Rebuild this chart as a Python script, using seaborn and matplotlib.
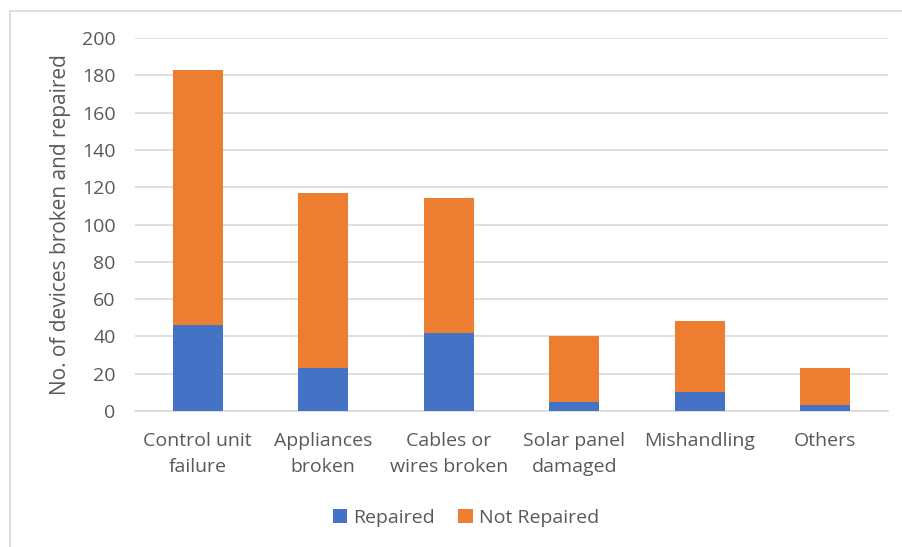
import matplotlib
matplotlib.use("Agg")
import matplotlib.pyplot as plt
import seaborn as sns
import pandas as pd
from matplotlib.patches import Patch
from matplotlib.lines import Line2D

categories = ["Control unit\nfailure", "Appliances\nbroken", "Cables or\nwires broken",
              "Solar panel\ndamaged", "Mishandling", "Others"]
repaired = [46, 23, 42, 5, 10, 3]
not_repaired = [137, 94, 72, 35, 38, 20]
yticks = [0, 20, 40, 60, 80, 100, 120, 140, 160, 180, 200]

BLUE = "#4472C4"
ORANGE = "#ED7D31"
TXT = "#595959"
GRID = "#D9D9D9"

sns.set_theme(style="white")
plt.rcParams['font.family'] = ['Open Sans', 'DejaVu Sans']

df = pd.DataFrame({"category": categories, "repaired": repaired,
                   "not_repaired": not_repaired})
df["total"] = df["repaired"] + df["not_repaired"]

fig = plt.figure(figsize=(9.03, 5.47), dpi=100)
ax = fig.add_axes([135/903, 1-411/547, (888-135)/903, (411-38)/547])

sns.barplot(data=df, x="category", y="total", color=ORANGE, width=0.4,
            saturation=1, ax=ax, edgecolor="none", zorder=3)
sns.barplot(data=df, x="category", y="repaired", color=BLUE, width=0.4,
            saturation=1, ax=ax, edgecolor="none", zorder=4)

ax.set_ylim(0, 200)
ax.set_xlim(-0.5, len(categories) - 0.5)
ax.set_yticks(yticks)
ax.yaxis.grid(True, color=GRID, linewidth=1.2, zorder=0)
ax.set_axisbelow(True)
for s in ["top", "right", "left"]:
    ax.spines[s].set_visible(False)
ax.spines["bottom"].set_color(GRID)
ax.spines["bottom"].set_linewidth(1.2)
ax.tick_params(axis="both", length=0, colors=TXT, labelsize=14)
ax.tick_params(axis="y", pad=14)
ax.tick_params(axis="x", pad=15)
for lbl in ax.get_xticklabels():
    lbl.set_linespacing(1.6)
ax.set_xlabel("")
ax.set_ylabel("No. of devices broken and repaired", color=TXT, fontsize=15, labelpad=8)

handles = [Patch(facecolor=BLUE, edgecolor="none", label="Repaired"),
           Patch(facecolor=ORANGE, edgecolor="none", label="Not Repaired")]
leg = fig.legend(handles=handles, loc="center", bbox_to_anchor=(466/903, 1-518/547),
                 ncol=2, frameon=False, fontsize=14, handlelength=0.75,
                 handleheight=0.75, handletextpad=0.3, columnspacing=1.2)
for t in leg.get_texts():
    t.set_color(TXT)

# outer chart border (top and left visible)
fig.add_artist(Line2D([10/903, 10/903], [0, 1-11/547], transform=fig.transFigure,
                      color=GRID, linewidth=1.2))
fig.add_artist(Line2D([10/903, 1], [1-11/547, 1-11/547], transform=fig.transFigure,
                      color=GRID, linewidth=1.2))

fig.savefig("out.png", dpi=100)
